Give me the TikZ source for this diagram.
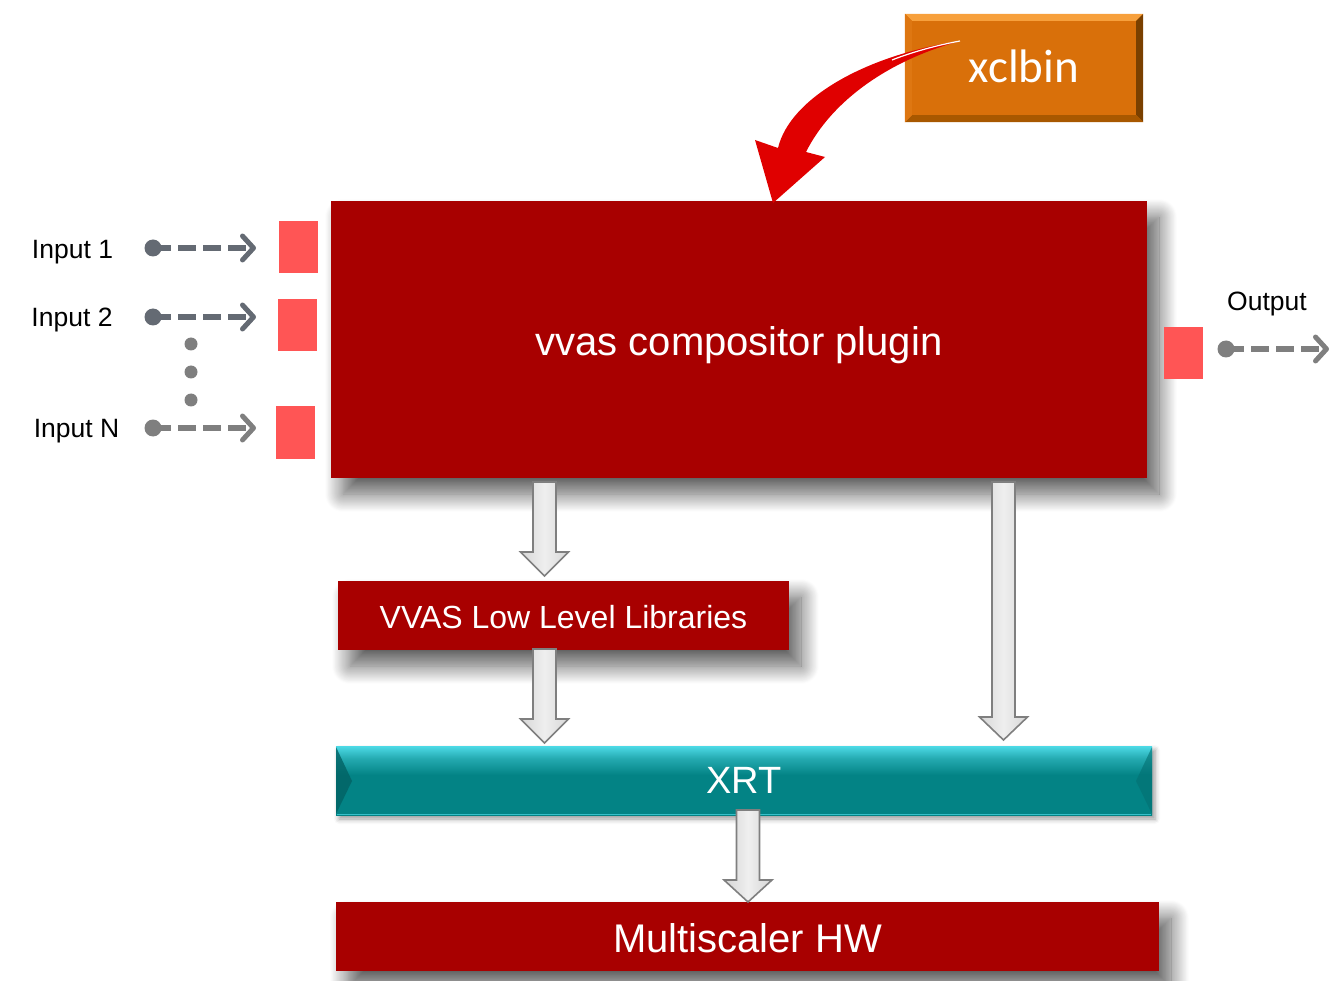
\documentclass[tikz,border=0pt]{standalone}
\usepackage{fontspec}
\setmainfont{Liberation Sans}
\newfontfamily\carlitofont{Carlito}
\usetikzlibrary{arrows.meta,shadows.blur,calc}
\definecolor{darkred}{HTML}{A80000}
\definecolor{portred}{HTML}{FF5555}
\definecolor{arrowgray}{HTML}{646A73}
\definecolor{midgray}{HTML}{7F7F7F}
\definecolor{orangebox}{HTML}{D9700A}
\definecolor{orangelight}{HTML}{F7A03C}
\definecolor{orangedark}{HTML}{7A4000}
\definecolor{orangemid}{HTML}{A85800}
\definecolor{teal1}{HTML}{038385}
\definecolor{teal2}{HTML}{4DDAE6}
\definecolor{curvered}{HTML}{E00000}
\definecolor{blockgray}{HTML}{D6D6D6}
\pgfdeclareverticalshading{xrtshade}{100bp}{color(0bp)=(teal1); color(54bp)=(teal1); color(66bp)=(teal1!55!teal2); color(75bp)=(teal2); color(100bp)=(teal2)}
\newcommand{\gblockarrow}[4]{% x, top, head base, tip
  \path[garrow] ({#1-11.5},#2) -- ({#1+11.5},#2) -- ({#1+11.5},#3) -- ({#1+24},#3) -- (#1,#4) -- ({#1-24},#3) -- ({#1-11.5},#3) -- cycle;}
\newcommand{\lowertext}[2]{\raisebox{-#1}[0pt][0pt]{#2}}
\begin{document}
\begin{tikzpicture}[x=1pt,y=-1pt,
  redbox/.style={fill=darkred, inner sep=0pt, text=white,
    blur shadow={shadow xshift=12pt, shadow yshift=-16pt, shadow blur radius=18pt, shadow blur steps=24, shadow opacity=65}},
  port/.style={fill=portred, inner sep=0pt, minimum width=39pt, minimum height=52pt},
  lbl/.style={font=\fontsize{26.5}{32}\selectfont, inner sep=0pt, anchor=base},
  srcdot/.style={circle, fill=#1, inner sep=0pt, minimum size=17pt},
  flow/.style={draw=#1, line width=5.5pt, dash pattern=on 18pt off 7pt,
    -{Straight Barb[length=11pt,width=24pt,line width=5pt,round]}},
  vdot/.style={circle, fill=midgray, inner sep=0pt, minimum size=13pt},
  garrow/.style={draw=midgray, line width=1.6pt, left color=blockgray, right color=blockgray, middle color=blockgray!40!white},
]
\useasboundingbox (0,0) rectangle (1344,981);

% main plugin box
\node[redbox, minimum width=816pt, minimum height=277pt, font=\fontsize{40}{48}\selectfont] (main) at (739,339.5) {\lowertext{16.5pt}{vvas compositor plugin}};

% xclbin box with bevel
\node[fill=orangebox, inner sep=0pt, minimum width=238pt, minimum height=108pt] (xcl) at (1024,68) {};
\fill[orangelight] (xcl.north west) -- (xcl.north east) -- ([shift={(-7,7)}]xcl.north east) -- ([shift={(7,7)}]xcl.north west) -- cycle;
\fill[orangedark] (xcl.north east) -- (xcl.south east) -- ([shift={(-7,-7)}]xcl.south east) -- ([shift={(-7,7)}]xcl.north east) -- cycle;
\fill[orangemid] (xcl.south west) -- (xcl.south east) -- ([shift={(-7,-7)}]xcl.south east) -- ([shift={(7,-7)}]xcl.south west) -- cycle;
\fill[orangebox!85!orangelight] (xcl.north west) -- (xcl.south west) -- ([shift={(7,-7)}]xcl.south west) -- ([shift={(7,7)}]xcl.north west) -- cycle;
\node[text=white, inner sep=0pt, font=\carlitofont\fontsize{47}{54}\selectfont] (xcltext) at ([yshift=2]xcl.center) {xclbin};

% curved red arrow
\fill[curvered] (960,41) .. controls (866,55) and (790,98) .. (778,148) -- (755,140) -- (773,203) -- (825,157) -- (806,152) .. controls (832,100) and (890,60) .. (960,41) -- cycle;
\draw[white, line width=1.2pt] (960,41) .. controls (938,45) and (912,52) .. (892,60);

% input ports
\node[port] (p1) at (298.5,247) {};
\node[port] (p2) at (297.5,325) {};
\node[port] (pN) at (295.5,432.5) {};
\node[port] (pout) at (1183,353) {};

% labels
\node[lbl] (l1) at (72.5,259) {Input 1};
\node[lbl] (l2) at (72,327) {Input 2};
\node[lbl] (lN) at (76.5,438) {Input N};
\node[lbl] (lout) at (1267,311) {Output};

% dashed flows
\node[srcdot=arrowgray] (s1) at (153,248) {};
\node[srcdot=arrowgray] (s2) at (153,317) {};
\node[srcdot=midgray] (sN) at (153,428) {};
\node[srcdot=midgray] (so) at (1226,349) {};
\coordinate (t1) at (256,248);
\coordinate (t2) at (256,317);
\coordinate (tN) at (256,428);
\coordinate (tout) at (1329,349);
\draw[flow=arrowgray] (s1.center) -- (t1);
\draw[flow=arrowgray] (s2.center) -- (t2);
\draw[flow=midgray] (sN.center) -- (tN);
\draw[flow=midgray] (so.center) -- (tout);

\node[vdot] (v1) at (191,344) {};
\node[vdot] (v2) at (191,372) {};
\node[vdot] (v3) at (191,400) {};

% lower boxes
\node[redbox, minimum width=451pt, minimum height=69pt, font=\fontsize{32}{38}\selectfont] (lib) at (563.5,615.5) {\lowertext{13pt}{VVAS Low Level Libraries}};

\path[blur shadow={shadow xshift=3pt, shadow yshift=-4pt, shadow blur radius=5pt, shadow opacity=40}, shading=xrtshade] (336,746) rectangle (1152,815);
\fill[teal1!75!black, opacity=0.8] (336,747) -- (352,781) -- (336,814) -- cycle;
\fill[teal1!85!black, opacity=0.6] (1152,747) -- (1136,781) -- (1152,814) -- cycle;
\draw[teal2!70!teal1, line width=1pt] (337,814.5) -- (1151,814.5);
\node[inner sep=0pt, minimum width=816pt, minimum height=69pt, text=white, font=\fontsize{38}{44}\selectfont] (xrt) at (744,780.5) {XRT};

\node[redbox, minimum width=823pt, minimum height=69pt, font=\fontsize{40}{48}\selectfont] (hw) at (747.5,936.5) {\lowertext{16pt}{Multiscaler HW}};

% gray block arrows
\gblockarrow{544.5}{482}{552}{576}
\gblockarrow{544.5}{649}{719}{743}
\gblockarrow{1003.5}{482}{717}{740}
\gblockarrow{748}{810}{880}{902}
\end{tikzpicture}
\end{document}
